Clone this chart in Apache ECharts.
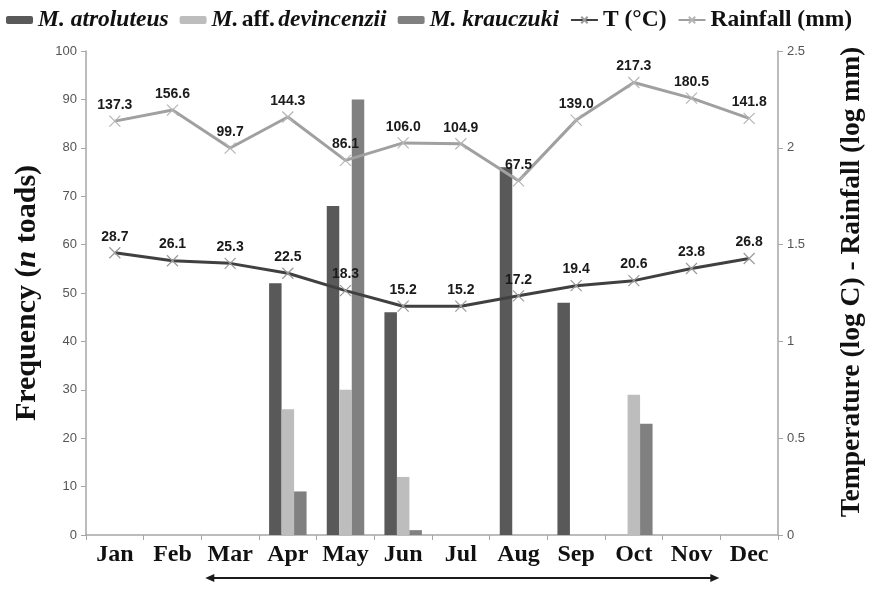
<!DOCTYPE html>
<html>
<head>
<meta charset="utf-8">
<script src="https://cdn.jsdelivr.net/npm/echarts@6/dist/echarts.min.js"></script>
<style>
  html, body { margin: 0; padding: 0; background: #fff; }
  #chart { width: 874px; height: 589px; }
</style>
</head>
<body>
<div id="chart"></div>
<script>
// Months on the category axis
const months = ['Jan', 'Feb', 'Mar', 'Apr', 'May', 'Jun', 'Jul', 'Aug', 'Sep', 'Oct', 'Nov', 'Dec'];

// Number of toads recorded per month, by species
const atroluteus  = [0, 0, 0, 52, 68, 46, 0, 76, 48, 0, 0, 0];
const devincenzii = [0, 0, 0, 26, 30, 12, 0, 0, 0, 29, 0, 0];
const krauczuki   = [0, 0, 0, 9, 90, 1, 0, 0, 0, 23, 0, 0];

// Monthly mean temperature (°C) and rainfall (mm); plotted on a log10 scale
const temperature = [28.7, 26.1, 25.3, 22.5, 18.3, 15.2, 15.2, 17.2, 19.4, 20.6, 23.8, 26.8];
const rainfall    = [137.3, 156.6, 99.7, 144.3, 86.1, 106.0, 104.9, 67.5, 139.0, 217.3, 180.5, 141.8];

const freqTicks = { min: 0, max: 100, interval: 10 };
const logTicks  = { min: 0, max: 2.5, interval: 0.5 };

const serif = '"Liberation Serif", "Times New Roman", serif';
const sans = '"Liberation Sans", Arial, sans-serif';
const crossSymbol = 'path://M0,0L10,10M10,0L0,10';

const chart = echarts.init(document.getElementById('chart'), null, { renderer: 'canvas' });

function lineLabel(values) {
  return {
    show: true,
    position: 'top',
    distance: 3,
    color: '#1a1a1a',
    fontFamily: sans,
    fontWeight: 'bold',
    fontSize: 14,
    formatter: p => values[p.dataIndex].toFixed(1)
  };
}

const option = {
  backgroundColor: '#ffffff',
  animation: false,
  grid: { left: 86, right: 95, top: 51, bottom: 54, containLabel: false },
  legend: {
    top: 8,
    left: 6,
    width: 872,
    padding: 0,
    itemWidth: 27,
    itemHeight: 8,
    itemGap: 11,
    data: ['M. atroluteus', 'M. aff. devincenzii', 'M. krauczuki', 'T (°C)', 'Rainfall (mm)'],
    formatter: name => {
      if (name === 'M. aff. devincenzii') return '{i|M.} {n|aff.} {i|devincenzii}';
      if (name.startsWith('M.')) return '{i|' + name + '}';
      return '{n|' + name + '}';
    },
    textStyle: {
      color: '#111',
      rich: {
        i: { fontFamily: serif, fontStyle: 'italic', fontWeight: 'bold', fontSize: 23.5, color: '#111' },
        n: { fontFamily: serif, fontWeight: 'bold', fontSize: 23.5, color: '#111' }
      }
    }
  },
  xAxis: {
    type: 'category',
    data: months,
    boundaryGap: true,
    axisLine: { lineStyle: { color: '#a6a6a6', width: 1.5 } },
    axisTick: { show: true, interval: 0, length: 5, lineStyle: { color: '#a6a6a6' } },
    axisLabel: { interval: 0, color: '#111', fontFamily: serif, fontWeight: 'bold', fontSize: 24, margin: 8 }
  },
  yAxis: [
    {
      type: 'value',
      position: 'left',
      min: freqTicks.min, max: freqTicks.max, interval: freqTicks.interval,
      name: '{b|Frequency (}{bi|n}{b| toads)}',
      nameLocation: 'middle',
      nameRotate: 90,
      nameGap: 44,
      nameTextStyle: {
        rich: {
          b: { fontFamily: serif, fontWeight: 'bold', fontSize: 30, color: '#111' },
          bi: { fontFamily: serif, fontWeight: 'bold', fontStyle: 'italic', fontSize: 30, color: '#111' }
        }
      },
      axisLine: { show: true, lineStyle: { color: '#a6a6a6', width: 1.5 } },
      axisTick: { show: true, length: 5, lineStyle: { color: '#a6a6a6' } },
      axisLabel: { color: '#555', fontFamily: sans, fontSize: 13, margin: 9 },
      splitLine: { show: false }
    },
    {
      type: 'value',
      position: 'right',
      min: logTicks.min, max: logTicks.max, interval: logTicks.interval,
      name: 'Temperature (log C) - Rainfall (log mm)',
      nameLocation: 'middle',
      nameRotate: 90,
      nameGap: 60,
      nameTextStyle: { fontFamily: serif, fontWeight: 'bold', fontSize: 27.5, color: '#111', padding: [0, 0, 0, 22] },
      axisLine: { show: true, lineStyle: { color: '#a6a6a6', width: 1.5 } },
      axisTick: { show: true, length: 5, lineStyle: { color: '#a6a6a6' } },
      axisLabel: { color: '#555', fontFamily: sans, fontSize: 13, margin: 9 },
      splitLine: { show: false }
    }
  ],
  series: [
    {
      name: 'M. atroluteus', type: 'bar', yAxisIndex: 0,
      data: atroluteus, barGap: '0%', barCategoryGap: '35%',
      itemStyle: { color: '#595959' }
    },
    {
      name: 'M. aff. devincenzii', type: 'bar', yAxisIndex: 0,
      data: devincenzii, barGap: '0%', barCategoryGap: '35%',
      itemStyle: { color: '#bdbdbd' }
    },
    {
      name: 'M. krauczuki', type: 'bar', yAxisIndex: 0,
      data: krauczuki, barGap: '0%', barCategoryGap: '35%',
      itemStyle: { color: '#808080' }
    },
    {
      name: 'T (°C)', type: 'line', yAxisIndex: 1,
      data: temperature.map(v => Math.log10(v)),
      symbol: crossSymbol, symbolSize: 11, showAllSymbol: true,
      lineStyle: { color: '#404040', width: 3 },
      itemStyle: { color: 'rgba(0,0,0,0)', borderColor: '#9a9a9a', borderWidth: 1.2 },
      label: lineLabel(temperature),
      z: 5
    },
    {
      name: 'Rainfall (mm)', type: 'line', yAxisIndex: 1,
      data: rainfall.map(v => Math.log10(v)),
      symbol: crossSymbol, symbolSize: 11, showAllSymbol: true,
      lineStyle: { color: '#a0a0a0', width: 3 },
      itemStyle: { color: 'rgba(0,0,0,0)', borderColor: '#b5b5b5', borderWidth: 1.2 },
      label: lineLabel(rainfall),
      z: 5
    }
  ]
};

chart.setOption(option);

// Double-headed arrow under the axis marking the Mar–Nov period
function drawPeriodArrow() {
  const band = chart.convertToPixel({ xAxisIndex: 0 }, 'Feb') - chart.convertToPixel({ xAxisIndex: 0 }, 'Jan');
  const x0 = chart.convertToPixel({ xAxisIndex: 0 }, 'Mar') - band / 2 + 4;
  const x1 = chart.convertToPixel({ xAxisIndex: 0 }, 'Nov') + band / 2 - 1;
  const y = 578;
  const head = 9, half = 4;
  chart.setOption({
    graphic: [
      { type: 'line', shape: { x1: x0 + head - 1, y1: y, x2: x1 - head + 1, y2: y },
        style: { stroke: '#1a1a1a', lineWidth: 2 }, silent: true },
      { type: 'polygon', shape: { points: [[x0, y], [x0 + head, y - half], [x0 + head, y + half]] },
        style: { fill: '#1a1a1a' }, silent: true },
      { type: 'polygon', shape: { points: [[x1, y], [x1 - head, y - half], [x1 - head, y + half]] },
        style: { fill: '#1a1a1a' }, silent: true }
    ]
  });
}
drawPeriodArrow();
</script>
</body>
</html>
